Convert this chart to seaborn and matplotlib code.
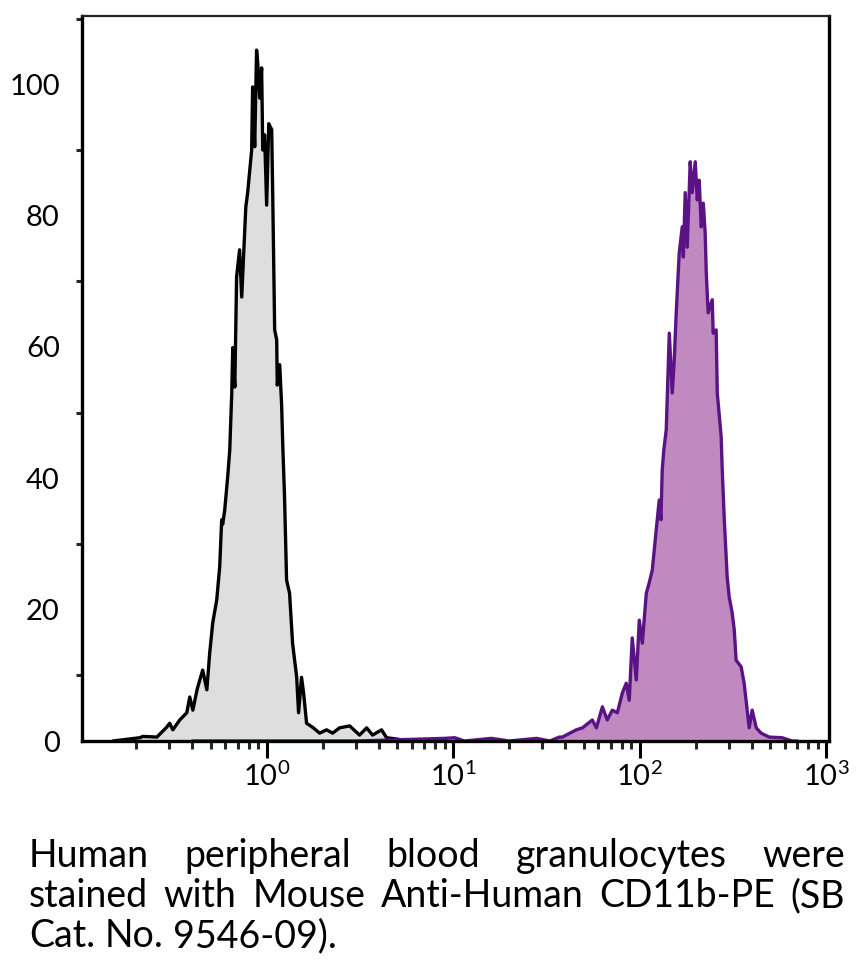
import numpy as np
import pandas as pd
import matplotlib
matplotlib.use('Agg')
import matplotlib.pyplot as plt
import seaborn as sns
from matplotlib.ticker import LogLocator, MultipleLocator, NullFormatter

# Histograma do controle (cinza) - intensidade x contagem
ctrl_fl = [0.150, 0.209, 0.217, 0.258, 0.291, 0.302, 0.314, 0.342, 0.373, 0.387,
           0.402, 0.422, 0.427, 0.454, 0.478, 0.495, 0.514, 0.540, 0.560, 0.574,
           0.581, 0.596, 0.618, 0.634, 0.650, 0.658, 0.675, 0.690, 0.716, 0.735,
           0.773, 0.791, 0.831, 0.841, 0.863, 0.883, 0.895, 0.918, 0.940, 0.953,
           0.975, 1.000, 1.026, 1.064, 1.076, 1.104, 1.132, 1.140, 1.175, 1.203,
           1.219, 1.247, 1.279, 1.327, 1.377, 1.449, 1.483, 1.538, 1.578, 1.637,
           1.762, 1.923, 2.094, 2.259, 2.460, 2.786, 3.148, 3.436, 3.698, 4.130,
           4.395, 4.966, 5.834]
ctrl_count = [0.0, 0.5, 0.7, 0.6, 2.1, 2.7, 1.7, 3.2, 4.3, 6.7,
              4.7, 7.6, 8.2, 10.8, 7.8, 13.4, 18.0, 21.5, 26.5, 33.7,
              33.0, 35.2, 40.2, 44.3, 53.0, 59.9, 53.9, 70.7, 74.8, 67.6,
              81.3, 83.5, 90.0, 99.6, 90.5, 105.2, 103.4, 97.9, 102.5, 90.0,
              92.3, 81.6, 94.0, 93.1, 84.7, 62.6, 61.1, 54.2, 57.3, 51.2,
              45.4, 37.2, 24.5, 22.5, 14.9, 9.7, 4.3, 9.7, 7.3, 2.7,
              2.1, 1.2, 1.7, 1.2, 2.0, 2.3, 0.9, 2.0, 0.9, 1.7,
              0.5, 0.3, 0.0]

# Histograma CD11b-PE (roxo)
cd11b_fl = [0.40, 3.0, 9.0, 10.2, 11.5, 16.0, 20.0, 28.0, 33.0, 37.1,
            38.5, 45.7, 49.3, 55.7, 58.6, 63.1, 67.0, 71.3, 75.9, 80.7,
            84.7, 87.9, 91.2, 95.9, 99.5, 103.3, 108.5, 112.5, 116.8, 122.6,
            127.3, 130.0, 132.1, 134.7, 138.8, 144.1, 149.5, 153.2, 157.0, 162.9,
            169.1, 171.4, 175.4, 179.9, 186.6, 191.3, 198.6, 203.6, 208.5, 213.8,
            219.3, 224.4, 227.5, 232.8, 244.9, 247.7, 257.0, 260.6, 273.5, 276.7,
            283.8, 294.4, 302.0, 313.3, 321.4, 328.9, 349.9, 363.1, 386.4, 400.9,
            421.7, 447.7, 494.3, 580.7, 656.1, 700.0]
cd11b_count = [0.0, 0.0, 0.4, 0.5, 0.0, 0.4, 0.0, 0.4, 0.0, 0.6,
               0.6, 1.7, 2.0, 3.2, 2.0, 5.2, 3.2, 4.7, 4.3, 7.3,
               8.8, 6.2, 15.7, 9.3, 18.4, 14.9, 22.5, 24.1, 26.0, 32.1,
               36.7, 33.7, 41.3, 44.3, 47.4, 62.1, 53.0, 58.0, 65.2, 74.3,
               78.3, 73.7, 83.5, 75.2, 88.2, 83.5, 88.2, 82.4, 85.4, 78.3,
               81.9, 77.4, 71.3, 65.2, 67.2, 62.1, 62.6, 53.0, 46.3, 41.7,
               34.1, 25.0, 21.9, 19.5, 16.9, 12.3, 11.3, 8.8, 2.0, 4.7,
               2.0, 1.2, 0.6, 0.5, 0.0, 0.0]

caption_lines = [
    ("Human peripheral blood granulocytes were", True),
    ("stained with Mouse Anti-Human CD11b-PE (SB", True),
    ("Cat. No. 9546-09).", False),
]

sns.set_style('white')
plt.rcParams['font.family'] = ['Lato', 'DejaVu Sans']
plt.rcParams['mathtext.fontset'] = 'custom'
plt.rcParams['mathtext.rm'] = 'Lato'
plt.rcParams['text.color'] = 'black'

ctrl = pd.DataFrame({'fl': ctrl_fl, 'count': ctrl_count})
cd11b = pd.DataFrame({'fl': cd11b_fl, 'count': cd11b_count})

W, H = 860, 961
fig = plt.figure(figsize=(W / 100, H / 100), dpi=100)
ax = fig.add_axes([82 / W, 1 - 741 / H, (829 - 82) / W, (741 - 16) / H])

ax.fill_between(ctrl['fl'], ctrl['count'], color='#dedede', lw=0)
ax.fill_between(cd11b['fl'], cd11b['count'], color='#c08ac0', lw=0)
sns.lineplot(data=ctrl, x='fl', y='count', ax=ax, color='black', lw=2.4,
             estimator=None, sort=False)
sns.lineplot(data=cd11b, x='fl', y='count', ax=ax, color='#5a1385', lw=2.4,
             estimator=None, sort=False)

ax.set_xscale('log')
ax.set_xlim(10 ** -0.99, 10 ** 3.015)
ax.set_ylim(0, 110.4)
ax.set_xlabel('')
ax.set_ylabel('')

ax.xaxis.set_major_locator(LogLocator(base=10, numticks=10))
ax.xaxis.set_minor_locator(LogLocator(base=10, subs=np.arange(2, 10), numticks=20))
ax.xaxis.set_minor_formatter(NullFormatter())
ax.yaxis.set_major_locator(MultipleLocator(20))
ax.yaxis.set_minor_locator(MultipleLocator(10))

ax.tick_params(axis='both', which='major', direction='out', width=2.2,
               colors='black', labelsize=21)
ax.tick_params(axis='y', which='major', length=11, pad=5)
ax.tick_params(axis='y', which='minor', length=4.5, width=2.2, left=True)
ax.tick_params(axis='x', which='major', length=12, pad=3, bottom=True)
ax.tick_params(axis='x', which='minor', length=5.5, width=2.2, bottom=True)

for side in ['left', 'bottom', 'right']:
    ax.spines[side].set_linewidth(2.4)
    ax.spines[side].set_color('black')
ax.spines['top'].set_linewidth(1.6)
ax.spines['top'].set_color('#222222')

# Legenda justificada abaixo do gráfico
fig.canvas.draw()
renderer = fig.canvas.get_renderer()
x0, x1 = 29, 845
baselines = [867, 907, 947]
size = 27
while True:
    probe = fig.text(0, 0, caption_lines[1][0], fontsize=size)
    wpx = probe.get_window_extent(renderer).width
    probe.remove()
    if wpx <= (x1 - x0) or size < 16:
        break
    size -= 0.5

for (line, justify), yb in zip(caption_lines, baselines):
    words = line.split(' ')
    texts = [fig.text(0, 1 - yb / H, w, fontsize=size, va='baseline', ha='left',
                      color='black')
             for w in words]
    widths = [t.get_window_extent(renderer).width for t in texts]
    if justify:
        gap = (x1 - x0 - sum(widths)) / (len(words) - 1)
    else:
        sp = fig.text(0, 0, 'a a', fontsize=size)
        sp2 = fig.text(0, 0, 'aa', fontsize=size)
        gap = sp.get_window_extent(renderer).width - sp2.get_window_extent(renderer).width
        sp.remove()
        sp2.remove()
    x = x0
    for t, w in zip(texts, widths):
        t.set_x(x / W)
        x += w + gap

fig.savefig('out.png', dpi=100)
